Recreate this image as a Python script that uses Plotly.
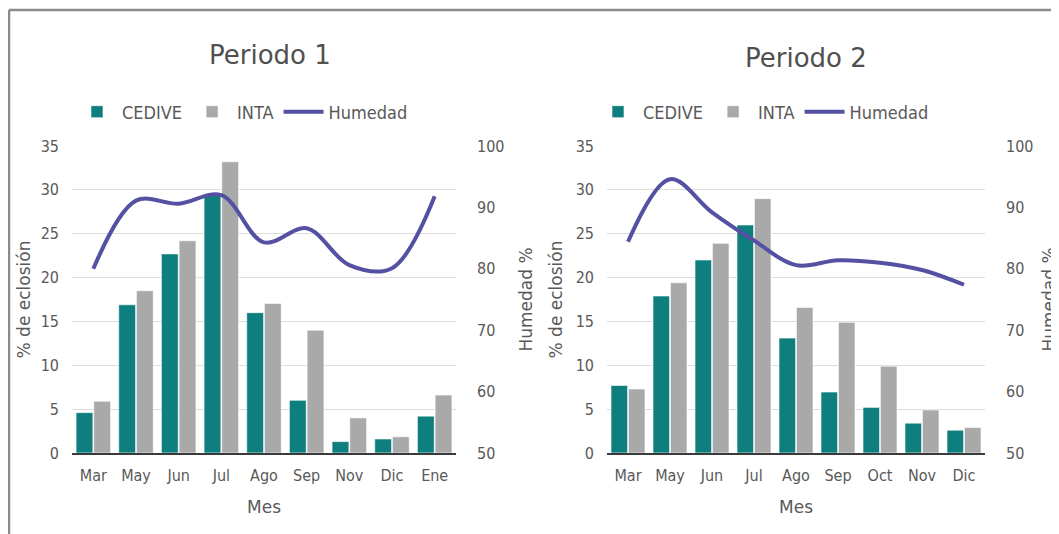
import plotly.graph_objects as go

# Datos

meses_p1 = ['Mar', 'May', 'Jun', 'Jul', 'Ago', 'Sep', 'Nov', 'Dic', 'Ene']
cedive_p1 = [4.6, 16.9, 22.7, 29.4, 16.0, 6.0, 1.3, 1.6, 4.2]
inta_p1 = [5.9, 18.5, 24.2, 33.2, 17.05, 14.0, 4.0, 1.85, 6.6]
humedad_p1 = [80.0, 91.1, 90.6, 92.0, 84.3, 86.6, 80.6, 80.1, 91.8]

meses_p2 = ['Mar', 'May', 'Jun', 'Jul', 'Ago', 'Sep', 'Oct', 'Nov', 'Dic']
cedive_p2 = [7.7, 17.9, 22.0, 26.0, 13.1, 6.95, 5.2, 3.4, 2.6]
inta_p2 = [7.3, 19.4, 23.9, 29.0, 16.6, 14.9, 9.9, 4.9, 2.9]
humedad_p2 = [84.4, 94.6, 89.2, 84.6, 80.6, 81.4, 81.0, 79.8, 77.4]

W, H = 1059, 534
OFF = 8  # margen del body de la pagina
TEAL = '#0E7F7E'
GRIS = '#A9A9A9'
LINEA = '#5451A2'
TEXTO = '#595959'
FONT = 'DejaVu Sans'
FONT_C = 'DejaVu Sans Condensed'

# posiciones en pixeles de la pagina -> coordenadas paper

def px(x):
    return (x - OFF) / W

def py(y):
    return 1 - (y - OFF) / H

fig = go.Figure()

paneles = [
    (meses_p1, cedive_p1, inta_p1, humedad_p1, 'x', 'y', 'y2', 'legend'),
    (meses_p2, cedive_p2, inta_p2, humedad_p2, 'x2', 'y3', 'y4', 'legend2'),
]

for meses, cedive, inta, humedad, xa, ya, yb, leg in paneles:
    fig.add_trace(go.Bar(x=meses, y=cedive, name='CEDIVE', xaxis=xa, yaxis=ya, legend=leg,
                         marker=dict(color=TEAL, line=dict(color='white', width=0.6))))
    fig.add_trace(go.Bar(x=meses, y=inta, name='INTA', xaxis=xa, yaxis=ya, legend=leg,
                         marker=dict(color=GRIS, line=dict(color='white', width=0.6))))
    fig.add_trace(go.Scatter(x=meses, y=humedad, name='Humedad', xaxis=xa, yaxis=yb, legend=leg,
                             mode='lines', line=dict(color=LINEA, width=4, shape='spline', smoothing=1.0)))

dom_y = [py(453), py(146)]
dom_x1 = [px(72), px(456)]
dom_x2 = [px(607), px(985)]

tick_font = dict(family=FONT_C, size=16, color=TEXTO)
tit_font = dict(family=FONT, size=17, color=TEXTO)

eje_x = dict(showgrid=False, showline=True, linecolor='#3a3a3a', linewidth=1.5, ticks='',
             tickfont=tick_font, ticklabelstandoff=7,
             title=dict(text='Mes', font=tit_font, standoff=17))
eje_izq = dict(range=[0, 35], dtick=5, showgrid=True, gridcolor='#DDDDDD', gridwidth=1,
               zeroline=False, tickfont=tick_font, ticklabelstandoff=12)
eje_der = dict(range=[50, 100], dtick=10, showgrid=False, zeroline=False, side='right',
               tickfont=tick_font, ticklabelstandoff=20)

fig.update_layout(
    width=W, height=H,
    margin=dict(l=0, r=0, t=0, b=0, autoexpand=False),
    paper_bgcolor='white', plot_bgcolor='white',
    font=dict(family=FONT, color=TEXTO),
    barmode='group', bargap=0.17, bargroupgap=0.05,
    xaxis=dict(eje_x, domain=dom_x1, anchor='y'),
    yaxis=dict(eje_izq, domain=dom_y, anchor='x',
               title=dict(text='% de eclosión', font=tit_font, standoff=5)),
    yaxis2=dict(eje_der, overlaying='y', anchor='x',
                title=dict(text='Humedad %', font=tit_font, standoff=16)),
    xaxis2=dict(eje_x, domain=dom_x2, anchor='y3'),
    yaxis3=dict(eje_izq, domain=dom_y, anchor='x2',
                title=dict(text='% de eclosión', font=tit_font, standoff=8)),
    yaxis4=dict(eje_der, overlaying='y3', anchor='x2',
                title=dict(text='Humedad %', font=tit_font, standoff=10)),
    legend=dict(orientation='h', x=px(72), y=py(112), yanchor='middle', xanchor='left',
                font=dict(family=FONT_C, size=18, color=TEXTO), itemclick=False, itemwidth=40),
    legend2=dict(orientation='h', x=px(593), y=py(112), yanchor='middle', xanchor='left',
                 font=dict(family=FONT_C, size=18, color=TEXTO), itemclick=False, itemwidth=40),
    showlegend=True,
)

fig.add_annotation(text='Periodo 1', x=px(270), y=py(55), xref='paper', yref='paper',
                   xanchor='center', yanchor='middle',
                   showarrow=False, font=dict(size=26, color='#505050'))
fig.add_annotation(text='Periodo 2', x=px(806), y=py(58), xref='paper', yref='paper',
                   xanchor='center', yanchor='middle',
                   showarrow=False, font=dict(size=26, color='#505050'))

# marco gris del recuadro
fig.add_shape(type='line', xref='paper', yref='paper', x0=px(9), x1=1, y0=py(10), y1=py(10),
              line=dict(color='#8A8A8A', width=2.5))
fig.add_shape(type='line', xref='paper', yref='paper', x0=px(9), x1=px(9), y0=py(10), y1=0,
              line=dict(color='#8A8A8A', width=2.5))

fig.write_html("out.html")
